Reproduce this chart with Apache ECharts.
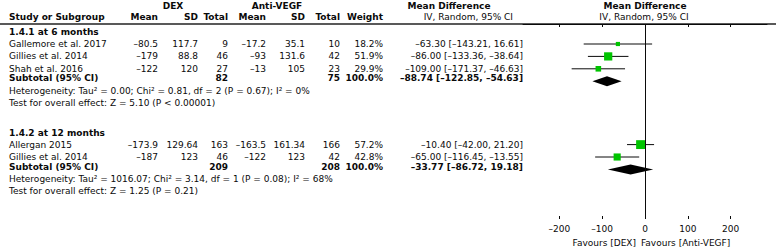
<!DOCTYPE html>
<html>
<head>
<meta charset="utf-8">
<script src="https://cdn.jsdelivr.net/npm/echarts@6/dist/echarts.min.js"></script>
<style>
    html, body { margin: 0; padding: 0; background: #fff; }
    #chart { width: 778px; height: 250px; }
</style>
</head>
<body>
<div id="chart"></div>
<script>
// 数据
const groups = ['1.4.1 at 6 months', '1.4.2 at 12 months']
const studies = ['Gallemore et al. 2017', 'Gillies et al. 2014', 'Shah et al. 2016', 'Allergan 2015', 'Gillies et al. 2014']
const studyGroup = [0, 0, 0, 1, 1]
const dexMean = [-80.5, -179, -122, -173.9, -187]
const dexSd = [117.7, 88.8, 120, 129.64, 123]
const dexN = [9, 46, 27, 163, 46]
const antiMean = [-17.2, -93, -13, -163.5, -122]
const antiSd = [35.1, 131.6, 105, 161.34, 123]
const antiN = [10, 42, 23, 166, 42]
const weight = [18.2, 51.9, 29.9, 57.2, 42.8]
const md = [-63.30, -86.00, -109.00, -10.40, -65.00]
const mdLo = [-143.21, -133.36, -171.37, -42.00, -116.45]
const mdHi = [16.61, -38.64, -46.63, 21.20, -13.55]

const subDexN = [82, 209]
const subAntiN = [75, 208]
const subMd = [-88.74, -33.77]
const subLo = [-122.85, -86.72]
const subHi = [-54.63, 19.18]

const tau2 = [0.00, 1016.07]
const chi2 = [0.81, 3.14]
const hetDf = [2, 1]
const hetP = ['= 0.67', '= 0.08']
const iSq = [0, 68]
const zVal = [5.10, 1.25]
const zP = ['< 0.00001', '= 0.21']

const xTicks = [-200, -100, 0, 100, 200]
const xMin = -285
const xMax = 285

// 布局
const FONT = '"DejaVu Sans", sans-serif'
const SIZE = 9
const INK = '#0a0a0a'
const GRID_TOP = 24
const GRID_BOTTOM = 219
const col = { study: 9, dexMean: 158, dexSd: 198, dexN: 228, antiMean: 266, antiSd: 305, antiN: 340, weight: 383, ci: 523 }

const dash = s => String(s).replace(/-/g, '\u2013')
const ci = (m, l, h) => dash(m.toFixed(2) + ' [' + l.toFixed(2) + ', ' + h.toFixed(2) + ']')

const texts = []
function t(x, y, text, align, bold) {
    texts.push({
        type: 'text', x: x, y: y, silent: true,
        style: {
            text: text, fill: INK,
            font: (bold ? 'bold ' : '') + SIZE + 'px ' + FONT,
            align: align, textAlign: align,
            verticalAlign: 'middle', textVerticalAlign: 'middle'
        }
    })
}

// 表头
t(173, 5.5, 'DEX', 'center', true)
t(277, 5.5, 'Anti-VEGF', 'center', true)
t(449, 5.5, 'Mean Difference', 'center', true)
t(645, 5.5, 'Mean Difference', 'center', true)
t(col.study, 16.5, 'Study or Subgroup', 'left', true)
t(col.dexMean, 16.5, 'Mean', 'right', true)
t(col.dexSd, 16.5, 'SD', 'right', true)
t(col.dexN, 16.5, 'Total', 'right', true)
t(col.antiMean, 16.5, 'Mean', 'right', true)
t(col.antiSd, 16.5, 'SD', 'right', true)
t(col.antiN, 16.5, 'Total', 'right', true)
t(col.weight, 16.5, 'Weight', 'right', true)
t(513, 16.5, 'IV, Random, 95% CI', 'right', false)
t(644, 16.5, 'IV, Random, 95% CI', 'center', false)

// 行
const studyPts = []
const diamondPts = []
let y = 32
groups.forEach((g, gi) => {
    if (gi > 0) y += 29.5
    t(col.study, y, g, 'left', true)
    y += 12
    let first = true
    studies.forEach((s, i) => {
        if (studyGroup[i] !== gi) return
        if (!first) y += 12.4
        first = false
        t(col.study, y, s, 'left', false)
        t(col.dexMean, y, dash(dexMean[i]), 'right', false)
        t(col.dexSd, y, String(dexSd[i]), 'right', false)
        t(col.dexN, y, String(dexN[i]), 'right', false)
        t(col.antiMean, y, dash(antiMean[i]), 'right', false)
        t(col.antiSd, y, String(antiSd[i]), 'right', false)
        t(col.antiN, y, String(antiN[i]), 'right', false)
        t(col.weight, y, weight[i].toFixed(1) + '%', 'right', false)
        t(col.ci, y, ci(md[i], mdLo[i], mdHi[i]), 'right', false)
        studyPts.push([md[i], mdLo[i], mdHi[i], weight[i], y - GRID_TOP])
    })
    y += 9.5
    t(col.study, y, 'Subtotal (95% CI)', 'left', true)
    t(col.dexN, y, String(subDexN[gi]), 'right', true)
    t(col.antiN, y, String(subAntiN[gi]), 'right', true)
    t(col.weight, y, '100.0%', 'right', true)
    t(col.ci, y, ci(subMd[gi], subLo[gi], subHi[gi]), 'right', true)
    diamondPts.push([subMd[gi], subLo[gi], subHi[gi], y + 3 - GRID_TOP])
    y += 12.8
    t(col.study, y, 'Heterogeneity: Tau\u00b2 = ' + tau2[gi].toFixed(2) + '; Chi\u00b2 = ' + chi2[gi].toFixed(2) +
        ', df = ' + hetDf[gi] + ' (P ' + hetP[gi] + '); I\u00b2 = ' + iSq[gi] + '%', 'left', false)
    y += 12
    t(col.study, y, 'Test for overall effect: Z = ' + zVal[gi].toFixed(2) + ' (P ' + zP[gi] + ')', 'left', false)
})

t(636, 243, 'Favours [DEX]', 'right', false)
t(641, 243, 'Favours [Anti-VEGF]', 'left', false)

texts.push({
    type: 'line', silent: true,
    shape: { x1: 0, y1: GRID_TOP, x2: 776, y2: GRID_TOP },
    style: { stroke: '#222', lineWidth: 1.3 }
})

const chart = echarts.init(document.getElementById('chart'), null, { renderer: 'svg' })
chart.setOption({
    animation: false,
    backgroundColor: '#fff',
    graphic: { elements: texts },
    grid: { left: 645 - 122, width: 244, top: GRID_TOP, height: GRID_BOTTOM - GRID_TOP },
    xAxis: [{
        type: 'value', min: xMin, max: xMax, position: 'bottom',
        axisLine: { lineStyle: { color: INK, width: 1 } },
        axisTick: { show: true, length: 3, customValues: xTicks, lineStyle: { color: INK } },
        axisLabel: { customValues: xTicks, color: INK, fontSize: SIZE, fontFamily: FONT, margin: 5, formatter: v => dash(v) },
        splitLine: { show: false }
    }, {
        type: 'value', min: xMin, max: xMax, position: 'bottom',
        axisLine: { show: false },
        axisTick: { show: true, inside: true, length: 3, customValues: xTicks, lineStyle: { color: INK } },
        axisLabel: { show: false },
        splitLine: { show: false }
    }],
    yAxis: { type: 'value', min: 0, max: GRID_BOTTOM - GRID_TOP, inverse: true, show: false },
    series: [{
        type: 'custom',
        xAxisIndex: 0,
        data: studyPts,
        renderItem: (params, api) => {
            const c = api.coord([api.value(0), api.value(4)])
            const a = api.coord([api.value(1), api.value(4)])
            const b = api.coord([api.value(2), api.value(4)])
            const s = 2 + api.value(3) * 0.12
            return {
                type: 'group',
                children: [{
                    type: 'line',
                    shape: { x1: a[0], y1: a[1], x2: b[0], y2: b[1] },
                    style: { stroke: INK, lineWidth: 1 }
                }, {
                    type: 'rect',
                    shape: { x: c[0] - s / 2, y: c[1] - s / 2, width: s, height: s },
                    style: { fill: '#00c400' }
                }]
            }
        },
        markLine: {
            silent: true, symbol: 'none',
            label: { show: false },
            lineStyle: { color: INK, width: 1, type: 'solid' },
            data: [{ xAxis: 0 }]
        }
    }, {
        type: 'custom',
        xAxisIndex: 0,
        data: diamondPts,
        renderItem: (params, api) => {
            const yv = api.value(3)
            const c = api.coord([api.value(0), yv])
            const a = api.coord([api.value(1), yv])
            const b = api.coord([api.value(2), yv])
            return {
                type: 'polygon',
                shape: { points: [[a[0], c[1]], [c[0], c[1] - 5], [b[0], c[1]], [c[0], c[1] + 5]] },
                style: { fill: '#000' }
            }
        }
    }]
})
</script>
</body>
</html>
